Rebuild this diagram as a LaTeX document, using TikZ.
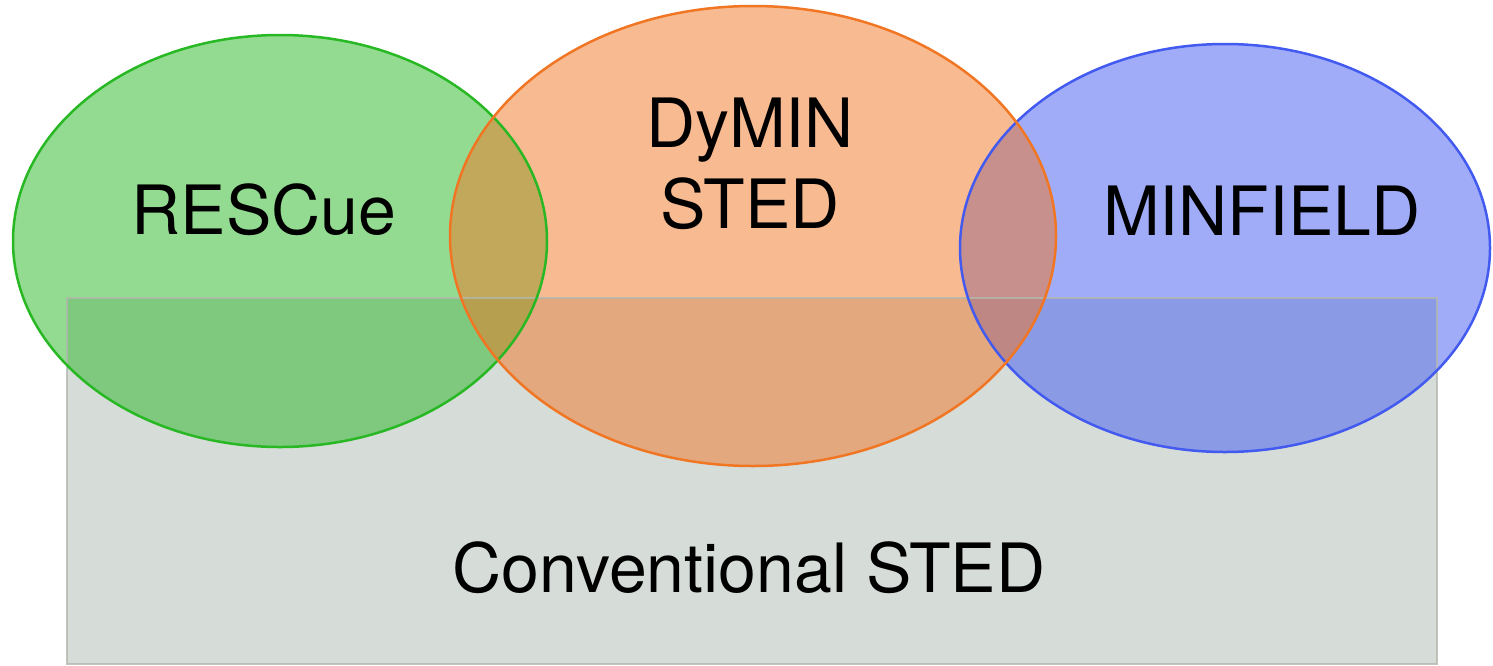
\documentclass[tikz,border=0pt]{standalone}
\usepackage{fontspec}
\setmainfont{TeX Gyre Heros}
\usetikzlibrary{positioning}

\definecolor{rescuegreen}{RGB}{40,184,36}
\definecolor{dyminorange}{RGB}{241,118,36}
\definecolor{minfieldblue}{RGB}{66,90,240}
\definecolor{confill}{RGB}{214,220,216}
\definecolor{conline}{RGB}{178,184,174}

\tikzset{
  vennfill/.style={fill=#1, fill opacity=.5},
  vennline/.style={draw=#1, line width=2.5pt},
  vennname/.style={font=\fontsize{68}{81}\selectfont, anchor=base, align=center, inner sep=0pt}
}

\begin{document}
\begin{tikzpicture}[x=1pt,y=-1pt]
\useasboundingbox (0,0) rectangle (1493,665);

% conventional STED underneath everything
\fill[confill] (67,298) rectangle (1437,664);

% the three sets, orange ends up on top
\fill[vennfill=rescuegreen]  (280,241) ellipse [x radius=267, y radius=206];
\fill[vennfill=minfieldblue] (1225,248) ellipse [x radius=265, y radius=204];
\fill[vennfill=dyminorange]  (753,236) ellipse [x radius=303, y radius=230];

% outlines go over all the fills
\draw[conline, draw opacity=.8, line width=2.5pt] (67,298) rectangle (1437,664);
\draw[vennline=rescuegreen]  (280,241) ellipse [x radius=267, y radius=206];
\draw[vennline=minfieldblue] (1225,248) ellipse [x radius=265, y radius=204];
\draw[vennline=dyminorange]  (753,236) ellipse [x radius=303, y radius=230];

\node[vennname] (rescue) at (264,234) {RESCue};
\node[vennname] (dymin) at (750,228) {DyMIN\\STED};
\node[vennname] (minfield) at (1262,235) {MINFIELD};
\node[vennname] (conventional) at (749,592) {Conventional STED};
\end{tikzpicture}
\end{document}
